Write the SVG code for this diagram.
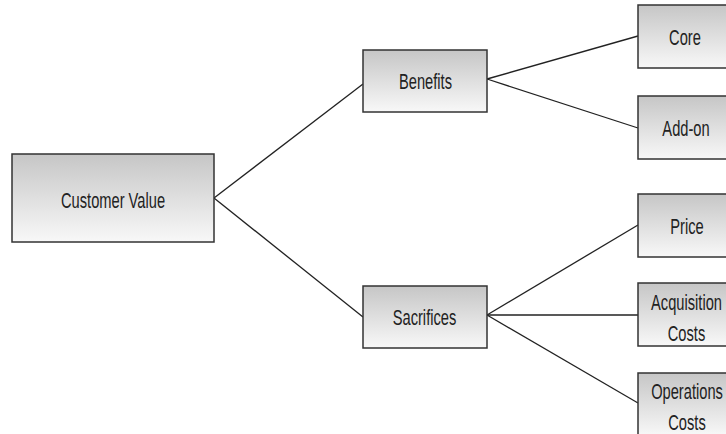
<svg xmlns="http://www.w3.org/2000/svg" width="726" height="434" viewBox="0 0 726 434">
<defs>
<linearGradient id="g" x1="0" y1="0" x2="0" y2="1">
<stop offset="0" stop-color="#c6c6c6"/>
<stop offset="1" stop-color="#f8f8f8"/>
</linearGradient>
<style>
.box{fill:url(#g);stroke:#333;stroke-width:1.5}
.t{font-family:"Liberation Sans",Arial,sans-serif;font-size:22px;fill:#222;text-anchor:middle}
.c{stroke:#222;stroke-width:1.3;fill:none}
</style>
</defs>
<rect width="726" height="434" fill="#fff"/>
<g id="connectors">
<line class="c" x1="214" y1="198" x2="363" y2="84"/>
<line class="c" x1="214" y1="198" x2="363" y2="317"/>
<line class="c" x1="487" y1="79" x2="638" y2="36"/>
<line class="c" x1="487" y1="79" x2="638" y2="128"/>
<line class="c" x1="487" y1="315" x2="638" y2="225"/>
<line class="c" x1="487" y1="315" x2="638" y2="315"/>
<line class="c" x1="487" y1="315" x2="638" y2="403"/>
</g>
<g id="customer-value">
<rect class="box" x="12" y="154" width="202" height="88"/>
<text class="t" transform="translate(113,208) scale(0.667,1)">Customer Value</text>
</g>
<g id="benefits">
<rect class="box" x="363" y="50" width="124" height="62"/>
<text class="t" transform="translate(425.5,89) scale(0.667,1)">Benefits</text>
</g>
<g id="sacrifices">
<rect class="box" x="363" y="286" width="124" height="62"/>
<text class="t" transform="translate(424.5,325) scale(0.667,1)">Sacrifices</text>
</g>
<g id="core">
<rect class="box" x="638" y="5" width="89" height="63"/>
<text class="t" transform="translate(685,45) scale(0.667,1)">Core</text>
</g>
<g id="add-on">
<rect class="box" x="638" y="96" width="89" height="63"/>
<text class="t" transform="translate(686,136) scale(0.667,1)">Add-on</text>
</g>
<g id="price">
<rect class="box" x="638" y="194" width="89" height="63"/>
<text class="t" transform="translate(687,234) scale(0.667,1)">Price</text>
</g>
<g id="acquisition-costs">
<rect class="box" x="638" y="283" width="89" height="63"/>
<text class="t" transform="translate(686.5,310) scale(0.667,1)">Acquisition</text>
<text class="t" transform="translate(686.5,341) scale(0.667,1)">Costs</text>
</g>
<g id="operations-costs">
<rect class="box" x="638" y="373" width="89" height="63"/>
<text class="t" transform="translate(687,399) scale(0.667,1)">Operations</text>
<text class="t" transform="translate(687,430) scale(0.667,1)">Costs</text>
</g>
</svg>
